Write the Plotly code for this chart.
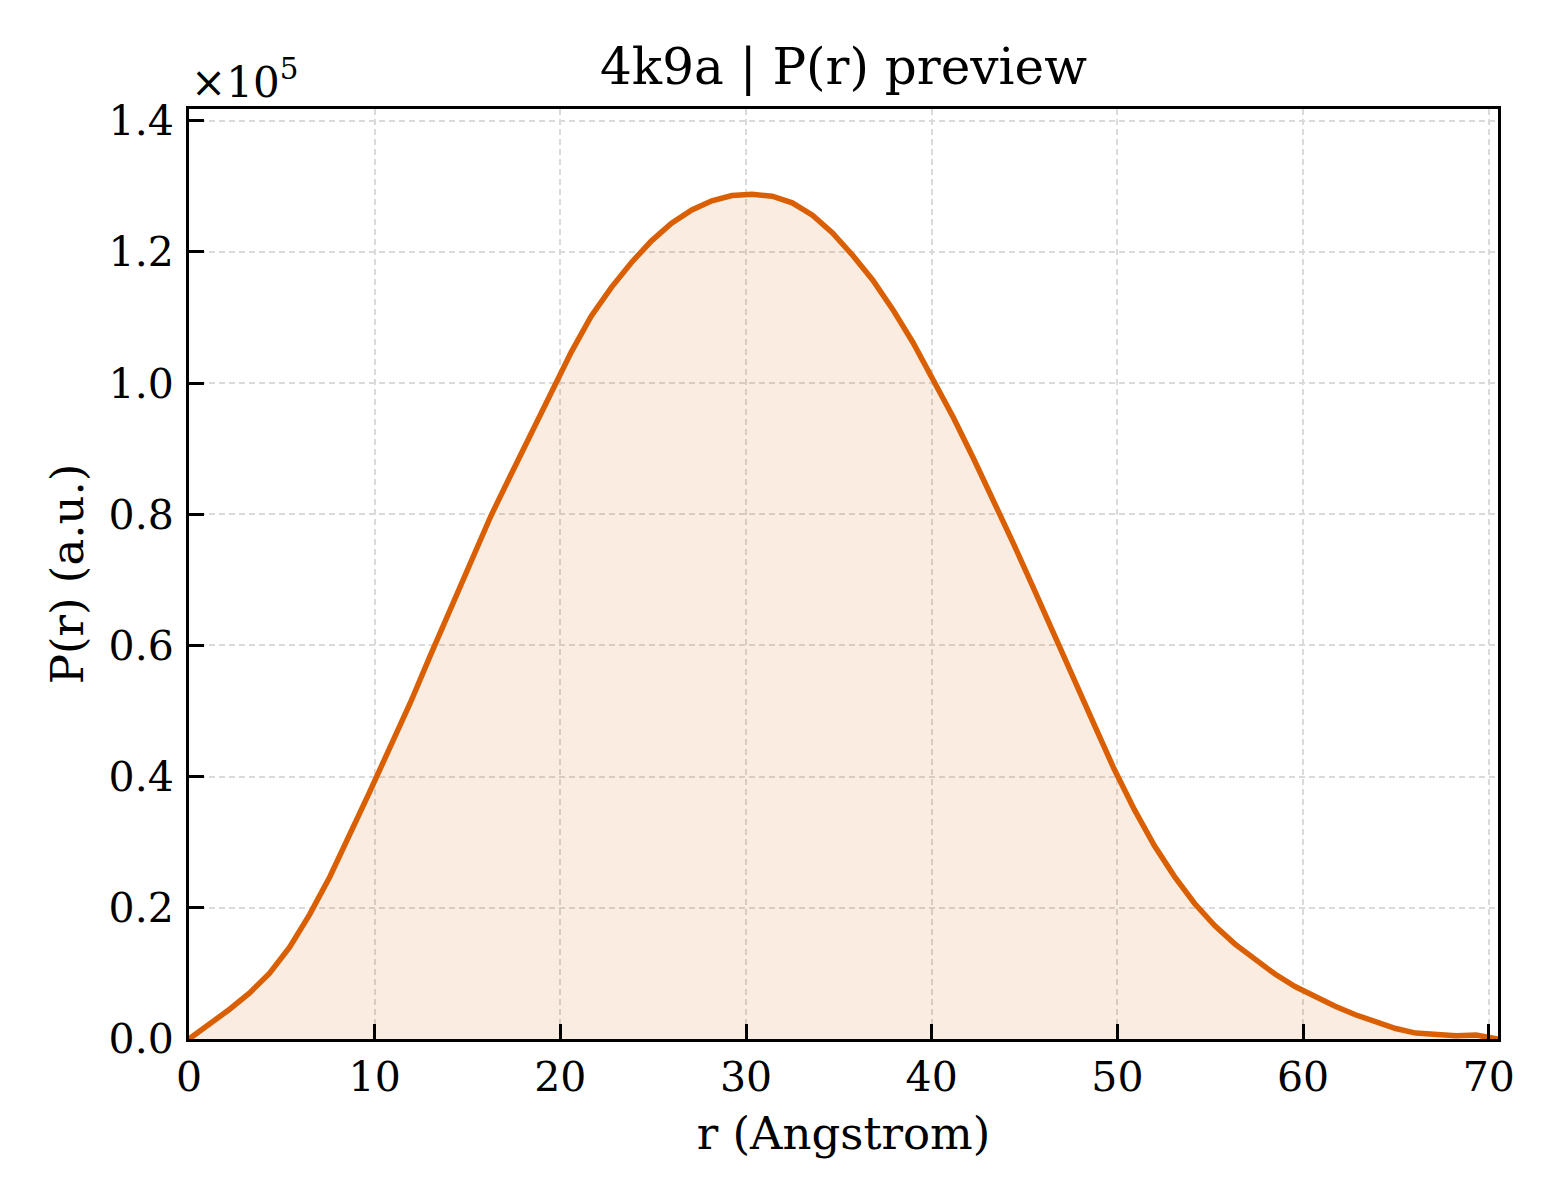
import plotly.graph_objects as go

# P(r) preview for 4k9a (y in units of 1e5)
r_angstrom = [
    0.00, 1.08, 2.17, 3.25, 4.33, 5.42, 6.50, 7.58, 8.66, 9.75,
    10.83, 11.91, 13.00, 14.08, 15.16, 16.25, 17.33, 18.41, 19.50, 20.58,
    21.66, 22.75, 23.83, 24.91, 25.99, 27.08, 28.16, 29.24, 30.33, 31.41,
    32.49, 33.58, 34.66, 35.74, 36.83, 37.91, 38.99, 40.07, 41.16, 42.24,
    43.32, 44.41, 45.49, 46.57, 47.66, 48.74, 49.82, 50.91, 51.99, 53.07,
    54.15, 55.24, 56.32, 57.40, 58.49, 59.57, 60.65, 61.73, 62.82, 63.90,
    64.99, 66.07, 67.15, 68.24, 69.32, 70.50,
]
p_r_e5 = [
    0.000, 0.022, 0.045, 0.070, 0.100, 0.140, 0.190, 0.247, 0.310, 0.378,
    0.445, 0.512, 0.585, 0.655, 0.725, 0.797, 0.860, 0.922, 0.985, 1.047,
    1.102, 1.146, 1.184, 1.217, 1.244, 1.264, 1.278, 1.286, 1.288, 1.285,
    1.275, 1.256, 1.229, 1.195, 1.157, 1.112, 1.062, 1.007, 0.948, 0.886,
    0.822, 0.755, 0.687, 0.617, 0.548, 0.480, 0.412, 0.350, 0.295, 0.248,
    0.207, 0.173, 0.145, 0.121, 0.099, 0.080, 0.064, 0.050, 0.037, 0.026,
    0.016, 0.009, 0.006, 0.005, 0.006, 0.000,
]
x_ticks = [0, 10, 20, 30, 40, 50, 60, 70]
y_ticks = [0.0, 0.2, 0.4, 0.6, 0.8, 1.0, 1.2, 1.4]

line_color = "#d95f02"
serif = "DejaVu Serif"

fig = go.Figure()
fig.add_trace(go.Scatter(
    x=r_angstrom,
    y=p_r_e5,
    mode="lines",
    line=dict(color=line_color, width=5.5),
    fill="tozeroy",
    fillcolor="rgba(217,95,2,0.12)",
    showlegend=False))

fig.update_xaxes(
    range=[0, 70.5],
    tickvals=x_ticks,
    ticks="inside", ticklen=15, tickwidth=3, tickcolor="black",
    showline=True, linecolor="black", linewidth=3, mirror=True,
    showgrid=True, gridcolor="#dadada", gridwidth=1.5, griddash="6px,4px",
    zeroline=False,
    tickfont=dict(family=serif, size=41, color="black"),
    ticklabelstandoff=0,
    title=dict(text="r (Angstrom)", font=dict(family=serif, size=45, color="black"), standoff=18))
fig.update_yaxes(
    range=[0, 1.418],
    tickvals=y_ticks, tickformat=".1f",
    ticks="inside", ticklen=15, tickwidth=3, tickcolor="black",
    showline=True, linecolor="black", linewidth=3, mirror=True,
    showgrid=True, gridcolor="#dadada", gridwidth=1.5, griddash="6px,4px",
    zeroline=False,
    tickfont=dict(family=serif, size=41, color="black"),
    ticklabelstandoff=4,
    title=dict(text="P(r) (a.u.)", font=dict(family=serif, size=45, color="black"), standoff=11))

# offset text of the y axis
fig.add_annotation(
    text="×10<sup>5</sup>", xref="paper", yref="paper", x=0.0, y=1.0,
    xanchor="left", yanchor="bottom", showarrow=False,
    font=dict(family=serif, size=42, color="black"))

fig.update_layout(
    width=1560, height=1200,
    margin=dict(l=181, r=70, t=101, b=169),
    paper_bgcolor="white", plot_bgcolor="white",
    title=dict(text="4k9a | P(r) preview", x=0.5, xref="paper", y=0.951, yref="container",
               xanchor="center", yanchor="middle",
               font=dict(family=serif, size=50, color="black")))

fig.write_html("out.html")
